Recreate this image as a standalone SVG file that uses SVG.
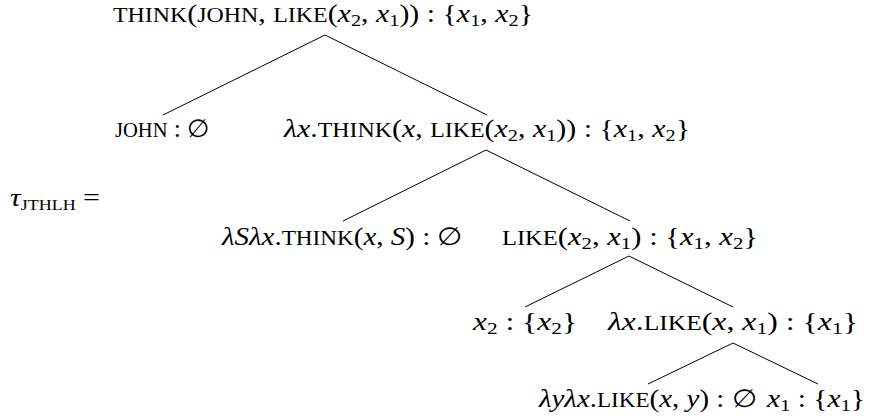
<svg xmlns="http://www.w3.org/2000/svg" width="871" height="419" viewBox="0 0 871 419">
<style>
.t { font-family: "Liberation Serif", "Times New Roman", "DejaVu Serif", serif; font-size: 25px; fill: #000; }
.i { font-style: italic; }
.sc { font-size: 20px; }
.sub { font-size: 17px; }
.ssc { font-size: 15px; }
.ln { stroke: #000; stroke-width: 1; fill: none; }
</style>
<rect width="871" height="419" fill="#fff"/>
<g id="connectors">
<line class="ln" x1="325" y1="35" x2="163" y2="115"/>
<line class="ln" x1="325" y1="35" x2="487" y2="115"/>
<line class="ln" x1="486" y1="150" x2="343" y2="221"/>
<line class="ln" x1="486" y1="150" x2="630" y2="221"/>
<line class="ln" x1="629" y1="256" x2="525" y2="307"/>
<line class="ln" x1="629" y1="256" x2="733" y2="307"/>
<line class="ln" x1="733" y1="343" x2="648" y2="384"/>
<line class="ln" x1="733" y1="343" x2="818" y2="384"/>
</g>
<g id="label-tau">
<text class="t" x="10" y="206" textLength="90" lengthAdjust="spacingAndGlyphs"><tspan class="i">τ</tspan><tspan class="ssc" dy="4">JTHLH</tspan><tspan dy="-4"> =</tspan></text>
</g>
<g id="n-root">
<text class="t" x="113" y="22" textLength="420" lengthAdjust="spacingAndGlyphs"><tspan class="sc">THINK</tspan>(<tspan class="sc">JOHN</tspan>, <tspan class="sc">LIKE</tspan>(<tspan class="i">x</tspan><tspan class="sub" dy="4">2</tspan><tspan dy="-4">, </tspan><tspan class="i">x</tspan><tspan class="sub" dy="4">1</tspan><tspan dy="-4">)) : {</tspan><tspan class="i">x</tspan><tspan class="sub" dy="4">1</tspan><tspan dy="-4">, </tspan><tspan class="i">x</tspan><tspan class="sub" dy="4">2</tspan><tspan dy="-4">}</tspan></text>
</g>
<g id="n-john">
<text class="t" x="115" y="137" textLength="95" lengthAdjust="spacingAndGlyphs"><tspan class="sc">JOHN</tspan> : ∅</text>
</g>
<g id="n-think-vp">
<text class="t" x="284" y="137" textLength="406" lengthAdjust="spacingAndGlyphs"><tspan class="i">λx</tspan>.<tspan class="sc">THINK</tspan>(<tspan class="i">x</tspan>, <tspan class="sc">LIKE</tspan>(<tspan class="i">x</tspan><tspan class="sub" dy="4">2</tspan><tspan dy="-4">, </tspan><tspan class="i">x</tspan><tspan class="sub" dy="4">1</tspan><tspan dy="-4">)) : {</tspan><tspan class="i">x</tspan><tspan class="sub" dy="4">1</tspan><tspan dy="-4">, </tspan><tspan class="i">x</tspan><tspan class="sub" dy="4">2</tspan><tspan dy="-4">}</tspan></text>
</g>
<g id="n-think">
<text class="t" x="222" y="245" textLength="241" lengthAdjust="spacingAndGlyphs"><tspan class="i">λSλx</tspan>.<tspan class="sc">THINK</tspan>(<tspan class="i">x</tspan>, <tspan class="i">S</tspan>) : ∅</text>
</g>
<g id="n-like-s">
<text class="t" x="502" y="245" textLength="256" lengthAdjust="spacingAndGlyphs"><tspan class="sc">LIKE</tspan>(<tspan class="i">x</tspan><tspan class="sub" dy="4">2</tspan><tspan dy="-4">, </tspan><tspan class="i">x</tspan><tspan class="sub" dy="4">1</tspan><tspan dy="-4">) : {</tspan><tspan class="i">x</tspan><tspan class="sub" dy="4">1</tspan><tspan dy="-4">, </tspan><tspan class="i">x</tspan><tspan class="sub" dy="4">2</tspan><tspan dy="-4">}</tspan></text>
</g>
<g id="n-x2">
<text class="t" x="473" y="330" textLength="104" lengthAdjust="spacingAndGlyphs"><tspan class="i">x</tspan><tspan class="sub" dy="4">2</tspan><tspan dy="-4"> : {</tspan><tspan class="i">x</tspan><tspan class="sub" dy="4">2</tspan><tspan dy="-4">}</tspan></text>
</g>
<g id="n-like-vp">
<text class="t" x="608" y="330" textLength="250" lengthAdjust="spacingAndGlyphs"><tspan class="i">λx</tspan>.<tspan class="sc">LIKE</tspan>(<tspan class="i">x</tspan>, <tspan class="i">x</tspan><tspan class="sub" dy="4">1</tspan><tspan dy="-4">) : {</tspan><tspan class="i">x</tspan><tspan class="sub" dy="4">1</tspan><tspan dy="-4">}</tspan></text>
</g>
<g id="n-like">
<text class="t" x="539" y="407" textLength="218" lengthAdjust="spacingAndGlyphs"><tspan class="i">λyλx</tspan>.<tspan class="sc">LIKE</tspan>(<tspan class="i">x</tspan>, <tspan class="i">y</tspan>) : ∅</text>
</g>
<g id="n-x1">
<text class="t" x="767" y="407" textLength="98" lengthAdjust="spacingAndGlyphs"><tspan class="i">x</tspan><tspan class="sub" dy="4">1</tspan><tspan dy="-4"> : {</tspan><tspan class="i">x</tspan><tspan class="sub" dy="4">1</tspan><tspan dy="-4">}</tspan></text>
</g>
</svg>
